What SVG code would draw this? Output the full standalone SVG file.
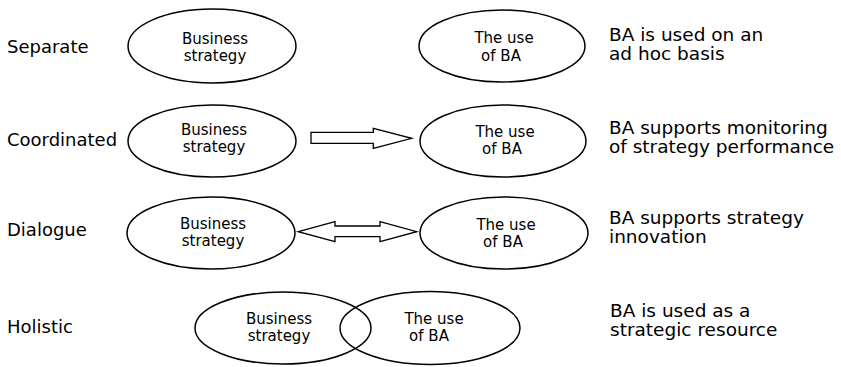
<svg xmlns="http://www.w3.org/2000/svg" width="841" height="367" viewBox="0 0 841 367">
<style>
text{font-family:"DejaVu Sans","Liberation Sans",sans-serif;fill:#000}
.lbl{font-size:18px}
.desc{font-size:18.5px}
.in{font-size:15px;text-anchor:middle}
ellipse{fill:none;stroke:#000;stroke-width:1.5}
.arr{fill:#fff;stroke:#000;stroke-width:1.3;stroke-linejoin:miter}
</style>
<rect width="841" height="367" fill="#fff"/>
<g id="labels">
<text class="lbl" x="7" y="53">Separate</text>
<text class="lbl" x="7" y="146">Coordinated</text>
<text class="lbl" x="7" y="236">Dialogue</text>
<text class="lbl" x="7" y="333">Holistic</text>
</g>
<g id="row1-bs"><ellipse cx="212" cy="46" rx="84" ry="37"/><text class="in" x="215" y="44">Business</text><text class="in" x="215" y="61">strategy</text></g>
<g id="row1-ba"><ellipse cx="502" cy="46" rx="83" ry="36"/><text class="in" x="504" y="43">The use</text><text class="in" x="501" y="61">of BA</text></g>
<g id="row2-bs"><ellipse cx="212" cy="141" rx="84" ry="36"/><text class="in" x="214" y="135">Business</text><text class="in" x="214" y="152">strategy</text></g>
<g id="row2-ba"><ellipse cx="503" cy="141" rx="83" ry="36"/><text class="in" x="505" y="137">The use</text><text class="in" x="502" y="154">of BA</text></g>
<g id="row3-bs"><ellipse cx="211" cy="233" rx="84" ry="36"/><text class="in" x="213" y="229">Business</text><text class="in" x="213" y="246">strategy</text></g>
<g id="row3-ba"><ellipse cx="504" cy="233" rx="84" ry="36"/><text class="in" x="506" y="230">The use</text><text class="in" x="503" y="247">of BA</text></g>
<g id="row4-bs"><ellipse cx="283" cy="328" rx="88" ry="36"/><text class="in" x="279" y="324">Business</text><text class="in" x="279" y="341">strategy</text></g>
<g id="row4-ba"><ellipse cx="430" cy="328" rx="90" ry="36.5"/><text class="in" x="434" y="324">The use</text><text class="in" x="429" y="341">of BA</text></g>
<g id="connectors">
<polygon class="arr" points="311,132.3 373.3,132.3 373.3,128.3 411.7,138.3 373.3,148.3 373.3,143.3 311,143.3"/>
<polygon class="arr" points="298.3,231.7 335,221.7 335,226 380,226 380,221.7 416.7,231.7 380,241.7 380,236.7 335,236.7 335,241.7"/>
</g>
<g id="descriptions">
<text class="desc" x="609" y="41">BA is used on an</text>
<text class="desc" x="609" y="60">ad hoc basis</text>
<text class="desc" x="609" y="134">BA supports monitoring</text>
<text class="desc" x="609" y="153">of strategy performance</text>
<text class="desc" x="609" y="224">BA supports strategy</text>
<text class="desc" x="609" y="243">innovation</text>
<text class="desc" x="610" y="317">BA is used as a</text>
<text class="desc" x="610" y="336">strategic resource</text>
</g>
</svg>
